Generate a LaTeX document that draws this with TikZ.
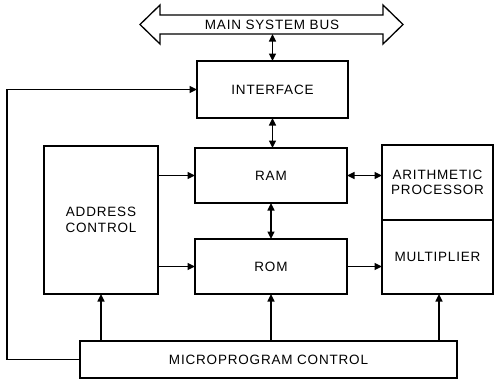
\documentclass[tikz,border=0pt]{standalone}
\usepackage{fontspec}
\setmainfont{Liberation Sans}[LetterSpace=6]
\usetikzlibrary{arrows.meta,calc}
\begin{document}
\begin{tikzpicture}[x=1pt,y=-1pt,
  blk/.style={draw,line width=1.8pt,inner sep=0pt,outer sep=0pt,align=center,font=\fontsize{13.5}{15.5}\selectfont},
  arr/.style={line width=1.3pt,-{Triangle[length=7.5pt,width=7pt]}},
  dbl/.style={line width=1.3pt,{Triangle[length=7.5pt,width=7pt]}-{Triangle[length=7.5pt,width=7pt]}},
  lbl/.style={font=\fontsize{13.5}{15.5}\selectfont,inner sep=0pt}]
\useasboundingbox (0,0) rectangle (494,381);
% bus
\draw[line width=1.3pt] (140,24.5) -- (160,5) -- (160,15) -- (383,15) -- (383,5) -- (403,24.5) -- (383,44) -- (383,34) -- (160,34) -- (160,44) -- cycle;
\node[lbl] (bus) at (272,25) {MAIN SYSTEM BUS};
\coordinate (busb) at (272.5,34);
% blocks
\node[blk,minimum width=151pt,minimum height=57pt] (iface) at (272.5,89.5) {INTERFACE};
\node[blk,minimum width=152pt,minimum height=55pt] (ram) at (271,175.5) {RAM};
\node[blk,minimum width=152pt,minimum height=55pt] (rom) at (271,266.5) {ROM};
\node[blk,minimum width=114pt,minimum height=148pt] (addr) at (101,220) {ADDRESS\\CONTROL};
\node[blk,minimum width=111pt,minimum height=75pt] (arith) at (437.5,182.5) {ARITHMETIC\\PROCESSOR};
\node[blk,minimum width=111pt,minimum height=74pt] (mult) at (437.5,257) {MULTIPLIER};
\node[blk,minimum width=377pt,minimum height=37pt] (micro) at (268.5,359.5) {MICROPROGRAM CONTROL};
% connectors
\draw[dbl] (busb) -- (iface.north);
\draw[dbl] (iface.south) -- (iface.south |- ram.north);
\draw[dbl] (ram.south) -- (rom.north);
\draw[dbl] (ram.east) -- (arith.west |- ram.east);
\draw[arr] (rom.east) -- (mult.west |- rom.east);
\draw[arr] (addr.east |- ram.west) -- (ram.west);
\draw[arr] (addr.east |- rom.west) -- (rom.west);
\draw[arr] (addr.south |- micro.north) -- (addr.south);
\draw[arr] (rom.south |- micro.north) -- (rom.south);
\draw[arr] ([xshift=1.5pt]mult.south |- micro.north) -- ([xshift=1.5pt]mult.south);
\draw[arr] (micro.west) -- ++(-73,0) |- (iface.west);
\end{tikzpicture}
\end{document}
